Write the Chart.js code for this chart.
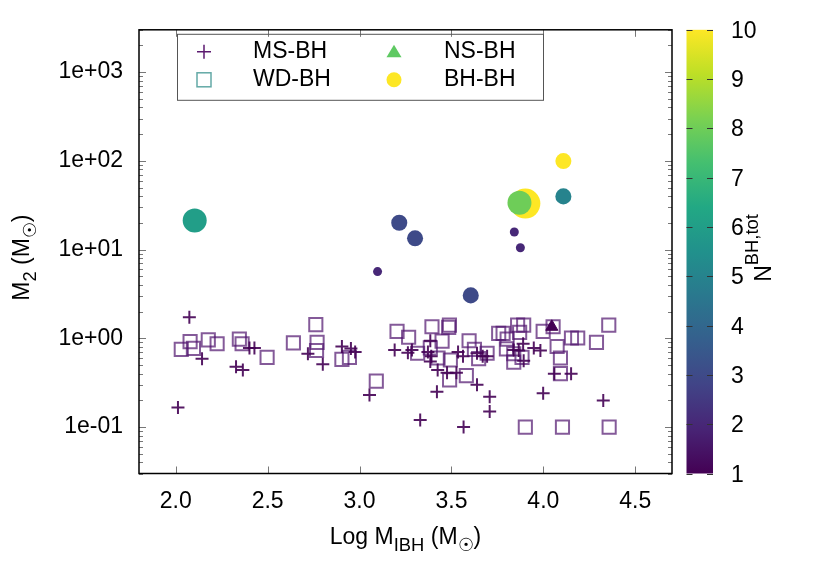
<!DOCTYPE html>
<html>
<head>
<meta charset="utf-8">
<script src="https://cdn.jsdelivr.net/npm/chart.js@4.4.0/dist/chart.umd.min.js"></script>
<style>
  html, body { margin: 0; padding: 0; background: #fff; }
</style>
</head>
<body>
<canvas id="myChart" width="830" height="581"></canvas>
<script>
// ---- data ----
var xTicks = [2.0, 2.5, 3.0, 3.5, 4.0, 4.5];
var yTicks = [0.1, 1, 10, 100, 1000];
var cbTicks = [1, 2, 3, 4, 5, 6, 7, 8, 9, 10];
var legendNames = ["MS-BH", "WD-BH", "NS-BH", "BH-BH"];

// MS-BH (crosses)
var msX = [2.074, 2.143, 2.328, 2.365, 2.401, 2.428, 2.012, 2.719, 2.800, 2.904, 2.953, 2.976, 3.054, 3.191, 3.263,
           3.285, 3.385, 3.372, 3.390, 3.385, 3.425, 3.476, 3.527, 3.536, 3.563, 3.639, 3.670, 3.639, 3.708, 3.708,
           3.421, 3.330, 3.566, 3.694, 3.839, 3.866, 3.890, 3.893, 3.948, 3.984, 4.060, 4.151, 3.999, 4.326];
var msY = [1.73, 0.59, 0.48, 0.44, 0.78, 0.78, 0.166, 0.67, 0.51, 0.81, 0.77, 0.70, 0.23, 0.74, 0.69,
           0.74, 0.94, 0.70, 0.63, 0.55, 0.44, 0.41, 0.41, 0.70, 0.63, 0.68, 0.63, 0.30, 0.22, 0.15,
           0.25, 0.12, 0.10, 0.63, 0.74, 0.73, 0.87, 0.56, 0.78, 0.73, 0.40, 0.40, 0.24, 0.20];

// WD-BH (open squares)
var wdX = [2.030, 2.078, 2.096, 2.177, 2.225, 2.346, 2.361, 2.497, 2.640, 2.762, 2.769, 2.766, 2.904, 2.945, 3.091,
           3.204, 3.267, 3.316, 3.394, 3.489, 3.485, 3.449, 3.385, 3.427, 3.494, 3.490, 3.581, 3.596, 3.625, 3.648,
           3.694, 3.757, 3.781, 3.860, 3.893, 3.871, 3.803, 3.799, 3.839, 3.839, 3.884, 3.999, 4.053, 4.075, 4.093,
           4.093, 4.153, 4.187, 4.289, 4.356, 3.902, 4.104, 4.358];
var wdY = [0.75, 0.92, 0.77, 0.96, 0.87, 0.98, 0.87, 0.61, 0.89, 1.43, 0.90, 0.73, 0.58, 0.61, 0.33,
           1.20, 1.03, 0.68, 1.35, 1.41, 1.33, 0.93, 0.78, 0.60, 0.57, 0.34, 0.38, 0.94, 0.75, 0.59,
           0.68, 1.14, 1.14, 1.41, 1.41, 1.17, 0.98, 0.76, 0.67, 0.54, 0.61, 1.20, 1.35, 0.81, 0.60,
           0.40, 1.01, 1.01, 0.90, 1.41, 0.10, 0.10, 0.10];

// NS-BH (triangle)
var nsX = [4.046];
var nsY = [1.35];
var nsN = [1];

// BH-BH (filled circles, colour = N_BH,tot, relative marker size)
var bhX = [2.103, 3.216, 3.302, 3.098, 3.605, 3.902, 3.870, 3.842, 3.875, 4.109, 4.109];
var bhY = [21.3, 20.1, 13.4, 5.65, 3.05, 33.0, 33.8, 15.8, 10.5, 99.5, 39.8];
var bhN = [6, 3, 3, 2, 3, 10, 8, 2, 2, 10, 5];
var bhSize = [1.6, 1.07, 1.07, 0.6, 1.07, 2.0, 1.6, 0.6, 0.6, 1.07, 1.07];

var FONT = "'Liberation Sans', Arial, sans-serif";
var FS = 23;

// viridis palette
var viridis = ["#440154", "#482475", "#414487", "#355f8d", "#2a788e", "#21918c",
               "#22a884", "#44bf70", "#7ad151", "#bddf26", "#fde725"];
function hex2rgb(h) {
  return [parseInt(h.substr(1, 2), 16), parseInt(h.substr(3, 2), 16), parseInt(h.substr(5, 2), 16)];
}
function viridisColor(n) {
  var t = Math.max(0, Math.min(1, (n - 1) / 9)) * 10;
  var i = Math.min(9, Math.floor(t)), f = t - i;
  var a = hex2rgb(viridis[i]), b = hex2rgb(viridis[i + 1]);
  return "rgb(" + Math.round(a[0] + (b[0] - a[0]) * f) + "," + Math.round(a[1] + (b[1] - a[1]) * f) + "," +
         Math.round(a[2] + (b[2] - a[2]) * f) + ")";
}

function pts(xs, ys) {
  return xs.map(function (x, i) { return {x: x, y: ys[i]}; });
}

function expLabel(v) {
  var e = Math.round(Math.log10(v));
  return "1e" + (e < 0 ? "-" : "+") + (Math.abs(e) < 10 ? "0" : "") + Math.abs(e);
}

// text with subscripts: parts = [[text, isSub], ...]
function richWidth(ctx, parts, fs) {
  var w = 0;
  parts.forEach(function (p) {
    ctx.font = (p[1] ? fs * 0.8 : fs) + "px " + FONT;
    w += ctx.measureText(p[0]).width;
  });
  return w;
}
function drawRich(ctx, parts, x, y, fs, subShift) {
  parts.forEach(function (p) {
    ctx.font = (p[1] ? fs * 0.8 : fs) + "px " + FONT;
    ctx.fillText(p[0], x, p[1] ? y + subShift : y);
    x += ctx.measureText(p[0]).width;
  });
}

var extras = {
  id: "extras",
  afterDraw: function (chart) {
    var ctx = chart.ctx, a = chart.chartArea;
    var xs = chart.scales.x, ys = chart.scales.y;
    ctx.save();

    // inward ticks on all four sides
    ctx.strokeStyle = "#777";
    ctx.lineWidth = 1;
    ctx.beginPath();
    xTicks.forEach(function (v) {
      var px = Math.round(xs.getPixelForValue(v)) + 0.5;
      ctx.moveTo(px, a.bottom); ctx.lineTo(px, a.bottom - 7);
      ctx.moveTo(px, a.top); ctx.lineTo(px, a.top + 7);
    });
    for (var d = 0.01; d < 5000; d *= 10) {
      for (var m = 1; m <= 9; m++) {
        var v = m * d;
        if (v < ys.min || v > ys.max) continue;
        var py = Math.round(ys.getPixelForValue(v)) + 0.5;
        var len = m === 1 ? 7 : 4;
        ctx.moveTo(a.left, py); ctx.lineTo(a.left + len, py);
        ctx.moveTo(a.right, py); ctx.lineTo(a.right - len, py);
      }
    }
    ctx.stroke();

    // frame
    ctx.strokeStyle = "#000";
    ctx.lineWidth = 1.5;
    ctx.strokeRect(a.left, a.top, a.right - a.left, a.bottom - a.top);

    // key
    var kx = a.left + 38, ky = a.top + 4;
    ctx.strokeStyle = "#555";
    ctx.lineWidth = 1;
    ctx.strokeRect(kx + 0.5, ky + 0.5, 366, 66);
    ctx.fillStyle = "#000";
    ctx.font = FS + "px " + FONT;
    ctx.textBaseline = "middle";
    ctx.textAlign = "left";
    var rows = [ky + 18, ky + 46];
    var symX = [kx + 27, kx + 217], txtX = [kx + 76, kx + 267];
    ctx.fillText(legendNames[0], txtX[0], rows[0]);
    ctx.fillText(legendNames[1], txtX[0], rows[1]);
    ctx.fillText(legendNames[2], txtX[1], rows[0]);
    ctx.fillText(legendNames[3], txtX[1], rows[1]);
    // cross
    ctx.strokeStyle = "#5c1a70";
    ctx.lineWidth = 1.5;
    ctx.beginPath();
    ctx.moveTo(symX[0] - 7, rows[0]); ctx.lineTo(symX[0] + 7, rows[0]);
    ctx.moveTo(symX[0], rows[0] - 7); ctx.lineTo(symX[0], rows[0] + 7);
    ctx.stroke();
    // square
    ctx.strokeStyle = "#63a9a6";
    ctx.strokeRect(symX[0] - 7, rows[1] - 7, 14, 14);
    // triangle
    ctx.fillStyle = "#5ec962";
    ctx.beginPath();
    ctx.moveTo(symX[1], rows[0] - 7);
    ctx.lineTo(symX[1] + 7.5, rows[0] + 5.5);
    ctx.lineTo(symX[1] - 7.5, rows[0] + 5.5);
    ctx.closePath();
    ctx.fill();
    // circle
    ctx.fillStyle = "#fde725";
    ctx.beginPath();
    ctx.arc(symX[1], rows[1], 7.5, 0, Math.PI * 2);
    ctx.fill();

    // colour bar
    var cbL = a.right + 14.5, cbW = 26.5, cbT = a.top, cbB = a.bottom;
    var g = ctx.createLinearGradient(0, cbB, 0, cbT);
    viridis.forEach(function (c, i) { g.addColorStop(i / 10, c); });
    ctx.fillStyle = g;
    ctx.fillRect(cbL, cbT, cbW, cbB - cbT);
    ctx.strokeStyle = "#333";
    ctx.lineWidth = 1;
    ctx.fillStyle = "#000";
    ctx.font = FS + "px " + FONT;
    ctx.textAlign = "left";
    ctx.textBaseline = "middle";
    ctx.beginPath();
    cbTicks.forEach(function (v) {
      var py = Math.round(cbB - (v - cbTicks[0]) / (cbTicks[cbTicks.length - 1] - cbTicks[0]) * (cbB - cbT)) + 0.5;
      ctx.moveTo(cbL, py); ctx.lineTo(cbL + 6, py);
      ctx.moveTo(cbL + cbW, py); ctx.lineTo(cbL + cbW - 6, py);
      ctx.fillText(String(v), cbL + cbW + 18, py + 1);
    });
    ctx.stroke();

    // axis titles
    ctx.fillStyle = "#000";
    ctx.textBaseline = "alphabetic";
    var xt = [["Log M", false], ["IBH", true], [" (M", false], ["\u2609", true], [")", false]];
    var w = richWidth(ctx, xt, FS);
    drawRich(ctx, xt, (a.left + a.right) / 2 - w / 2, 544, FS, 7);

    var yt = [["M", false], ["2", true], [" (M", false], ["\u2609", true], [")", false]];
    ctx.save();
    ctx.translate(29, (a.top + a.bottom) / 2 + 6);
    ctx.rotate(-Math.PI / 2);
    w = richWidth(ctx, yt, FS);
    drawRich(ctx, yt, -w / 2, 0, FS, 7);
    ctx.restore();

    // colour-bar title: subscript sits toward the plot, as in the original
    var ct = [["N", false], ["BH,tot", true]];
    ctx.save();
    ctx.translate(771, 248);
    ctx.rotate(-Math.PI / 2);
    w = richWidth(ctx, ct, FS);
    drawRich(ctx, ct, -w / 2, 0, FS, -13);
    ctx.restore();

    ctx.restore();
  }
};

new Chart("myChart", {
  type: "scatter",
  data: {
    datasets: [{
      label: legendNames[2],
      data: pts(nsX, nsY),
      pointStyle: "triangle",
      pointRadius: 7,
      pointHoverRadius: 7,
      backgroundColor: nsN.map(viridisColor),
      borderColor: nsN.map(viridisColor),
      borderWidth: 1
    }, {
      label: legendNames[0],
      data: pts(msX, msY),
      pointStyle: "cross",
      pointRadius: 6.5,
      pointHoverRadius: 6.5,
      borderColor: "rgba(68,1,84,0.9)",
      borderWidth: 2
    }, {
      label: legendNames[1],
      data: pts(wdX, wdY),
      pointStyle: "rect",
      pointRadius: 9.3,
      pointHoverRadius: 9.3,
      backgroundColor: "rgba(0,0,0,0)",
      borderColor: "rgba(80,20,110,0.7)",
      borderWidth: 2
    }, {
      label: legendNames[3],
      data: pts(bhX, bhY),
      pointStyle: "circle",
      pointRadius: bhSize.map(function (s) { return 7.5 * s; }),
      pointHoverRadius: bhSize.map(function (s) { return 7.5 * s; }),
      backgroundColor: bhN.map(viridisColor),
      borderColor: bhN.map(viridisColor),
      borderWidth: 0
    }]
  },
  options: {
    responsive: false,
    animation: false,
    devicePixelRatio: 1,
    events: [],
    layout: {padding: {left: 0, right: 158, top: 25, bottom: 0}},
    plugins: {legend: {display: false}, tooltip: {enabled: false}},
    scales: {
      x: {
        type: "linear",
        min: 1.8,
        max: 4.7,
        grid: {display: false, drawTicks: false},
        border: {display: false},
        afterBuildTicks: function (s) { s.ticks = xTicks.map(function (v) { return {value: v}; }); },
        afterFit: function (s) { s.height = 107.5; },
        ticks: {
          padding: 14,
          maxRotation: 0,
          color: "#000",
          font: {family: FONT, size: FS},
          callback: function (v) { return Number(v).toFixed(1); }
        }
      },
      y: {
        type: "logarithmic",
        min: 0.03,
        max: 3000,
        grid: {display: false, drawTicks: false},
        border: {display: false},
        afterBuildTicks: function (s) { s.ticks = yTicks.map(function (v) { return {value: v}; }); },
        afterFit: function (s) { s.width = 139; },
        ticks: {
          padding: 16,
          color: "#000",
          font: {family: FONT, size: FS},
          callback: function (v) { return expLabel(v); }
        }
      }
    }
  },
  plugins: [extras]
});
</script>
</body>
</html>
